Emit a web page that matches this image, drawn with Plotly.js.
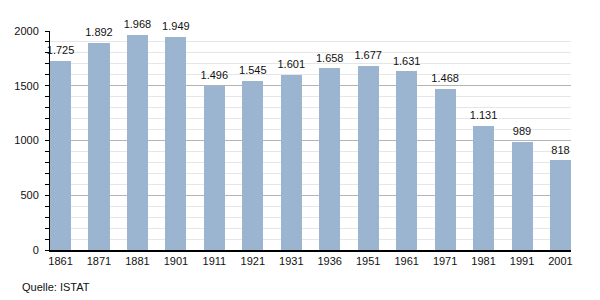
<!DOCTYPE html>
<html><head><meta charset="utf-8">
<script src="https://cdn.plot.ly/plotly-3.0.1.min.js"></script>
<style>html,body{margin:0;padding:0;background:#fff}#c{width:600px;height:300px}</style>
</head><body><div id="c"></div>
<script>
const years = ['1861','1871','1881','1901','1911','1921','1931','1936','1951','1961','1971','1981','1991','2001'];
const population = [1725,1892,1968,1949,1496,1545,1601,1658,1677,1631,1468,1131,989,818];
const yTicks = [0,500,1000,1500,2000];
const source = 'Quelle: ISTAT';

const fmt = v => String(v).replace(/\B(?=(\d{3})+(?!\d))/g, '.');
const xs = years.map((_, i) => i);
const w = 0.547;

Plotly.newPlot('c', [{
  type: 'bar',
  x: xs,
  y: population,
  width: w,
  marker: {color: '#9bb4d0', line: {width: 0}},
  hoverinfo: 'skip'
}, {
  type: 'scatter',
  mode: 'markers+text',
  x: xs,
  y: population,
  marker: {size: 5, opacity: 0},
  text: population.map(fmt),
  textposition: 'top center',
  cliponaxis: false,
  textfont: {family: 'Liberation Sans, Arial, sans-serif', size: 11, color: '#111'},
  hoverinfo: 'skip'
}], {
  width: 600, height: 300,
  margin: {l: 50, r: 29, t: 31, b: 50},
  paper_bgcolor: '#fff', plot_bgcolor: '#fff',
  font: {family: 'Liberation Sans, Arial, sans-serif', size: 11, color: '#111'},
  showlegend: false,
  bargap: 0,
  xaxis: {
    range: [-w/2, years.length - 1 + w/2],
    tickvals: xs, ticktext: years,
    ticks: '', showgrid: false, zeroline: false,
    showline: true, linecolor: '#000', linewidth: 1.5,
    tickfont: {size: 11, color: '#111'}, fixedrange: true
  },
  yaxis: {
    range: [0, 2000],
    tickvals: yTicks,
    ticks: 'outside', ticklen: 4, tickcolor: '#000', tickwidth: 1,
    ticklabelstandoff: 4,
    showline: true, linecolor: '#000', linewidth: 1,
    showgrid: true, gridcolor: '#b4b4b4', gridwidth: 1,
    zeroline: false,
    minor: {dtick: 100, showgrid: true, gridcolor: '#e6e6e6', gridwidth: 1, ticks: 'outside', ticklen: 4, tickcolor: '#000'},
    tickfont: {size: 11, color: '#111'}, fixedrange: true
  },
  annotations: [{
    text: source, xref: 'paper', yref: 'paper', x: -30/521, y: 0,
    xanchor: 'left', yanchor: 'middle', yshift: -37, showarrow: false,
    font: {size: 11, color: '#111'}
  }]
}, {displayModeBar: false, staticPlot: true});
</script></body></html>
